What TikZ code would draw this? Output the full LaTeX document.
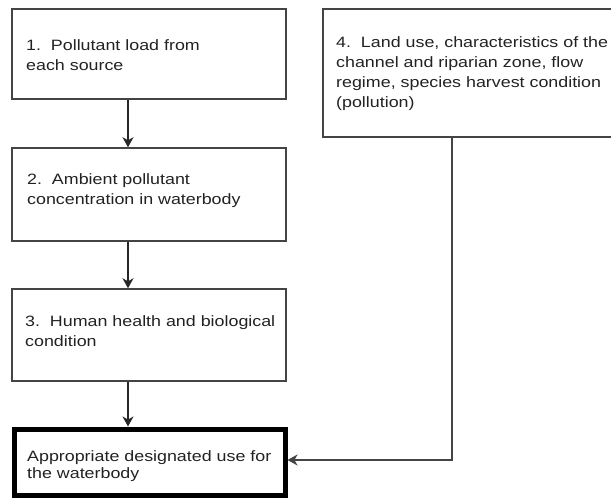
\documentclass[tikz,border=0pt]{standalone}
\usepackage{fontspec}
\setmainfont{Liberation Sans}[FakeStretch=1.19]
\usetikzlibrary{arrows.meta,calc}
\definecolor{boxline}{HTML}{444444}
\definecolor{txt}{HTML}{222222}
\tikzset{
  box/.style={draw=boxline, line width=1.5pt, rectangle, inner sep=0pt},
  bigbox/.style={draw=black, line width=5pt, rectangle, inner sep=0pt},
  lbl/.style={anchor=north west, inner sep=0pt, align=left, text=txt,
    font=\fontsize{15}{20}\selectfont},
  arr/.style={draw=black!85, line width=1.4pt, -{Stealth[length=10pt,width=11pt,inset=3pt]}},
}
\begin{document}
\begin{tikzpicture}[x=1pt,y=-1pt]
\useasboundingbox (0,0) rectangle (611,498);
\clip (0,0) rectangle (611,498);
% boxes
\node[box, minimum width=274pt, minimum height=90pt] (b1) at (149,54) {};
\node[box, minimum width=274pt, minimum height=93pt] (b2) at (149,194.5) {};
\node[box, minimum width=274pt, minimum height=92pt] (b3) at (149,335) {};
\node[box, minimum width=300pt, minimum height=128pt] (b4) at (473,73) {};
\node[bigbox, minimum width=271pt, minimum height=66pt] (b5) at (149.5,462) {};
% texts
\node[lbl] (t1) at (26,39.6) {\vphantom{Ad}1.~~Pollutant load from\\each source};
\node[lbl] (t2) at (27,173.6) {\vphantom{Ad}2.~~Ambient pollutant\\concentration in waterbody};
\node[lbl] (t3) at (25,315.6) {\vphantom{Ad}3.~~Human health and biological\\condition};
\node[lbl] (t4) at (336,36.6) {\vphantom{Ad}4.~~Land use, characteristics of the\\channel and riparian zone, flow\\regime, species harvest condition\\(pollution)};
\node[lbl, font=\fontsize{15}{17}\selectfont] (t5) at (27,450) {\vphantom{Ad}Appropriate designated use for\\the waterbody};
% connectors
\coordinate (ax) at (128,0);
\coordinate (j) at (452,460);
\draw[arr] (b1.south -| ax) -- (b2.north -| ax);
\draw[arr] (b2.south -| ax) -- (b3.north -| ax);
\draw[arr] (b3.south -| ax) -- (b5.north -| ax);
\draw[arr, draw=boxline] (b4.south -| j) -- (j) -- (b5.east |- j);
\end{tikzpicture}
\end{document}
